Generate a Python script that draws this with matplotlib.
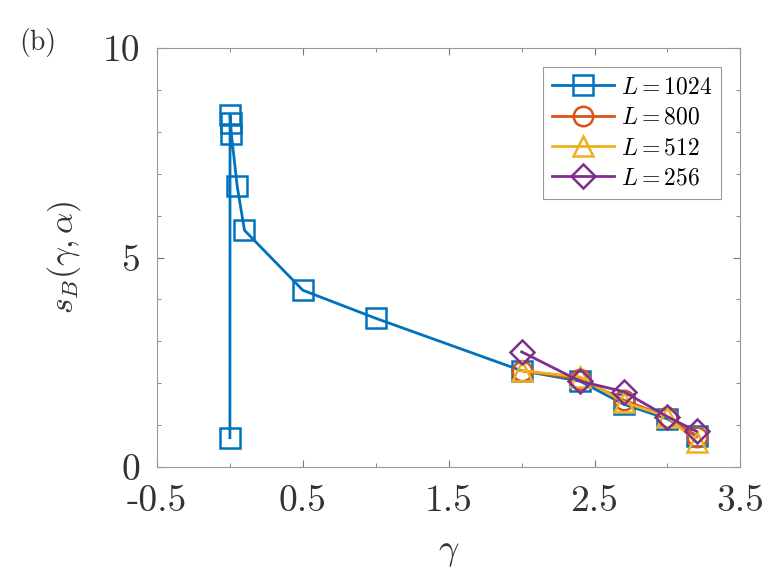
import matplotlib
matplotlib.use('Agg')
import matplotlib.pyplot as plt
from matplotlib.ticker import MultipleLocator

matplotlib.rcParams['mathtext.fontset'] = 'cm'
matplotlib.rcParams['font.family'] = 'cmr10'
matplotlib.rcParams['axes.unicode_minus'] = False

# 数据
gamma_1024 = [0, 0.001, 0.005, 0.01, 0.05, 0.1, 0.5, 1.0, 2.0, 2.4, 2.7, 3.0, 3.2]
s_1024 = [0.7, 8.4, 8.2, 7.95, 6.7, 5.65, 4.22, 3.55, 2.3, 2.05, 1.5, 1.15, 0.75]
gamma_big = [2.0, 2.4, 2.7, 3.0, 3.2]
s_800 = [2.3, 2.1, 1.6, 1.2, 0.72]
s_512 = [2.3, 2.15, 1.55, 1.2, 0.6]
s_256 = [2.75, 2.05, 1.8, 1.2, 0.85]

labels = ['$L=1024$', '$L=800$', '$L=512$', '$L=256$']
colors = ['#0072BD', '#D95319', '#EDB120', '#7E2F8E']
markers = ['s', 'o', '^', 'D']
x_ticks = [-0.5, 0.5, 1.5, 2.5, 3.5]
x_ticklabels = ['-0.5', '0.5', '1.5', '2.5', '3.5']
y_ticks = [0, 5, 10]

fig = plt.figure(figsize=(7.81, 5.86), dpi=100)
ax = fig.add_axes([0.201, 0.203, 0.747, 0.715])

series = [(gamma_1024, s_1024), (gamma_big, s_800), (gamma_big, s_512), (gamma_big, s_256)]
sizes = [14, 14, 14, 12]
for i, (gx, sy) in enumerate(series):
    ax.plot(gx, sy, color=colors[i], marker=markers[i], markersize=sizes[i],
            markerfacecolor='none', markeredgewidth=1.8, linewidth=2.0, label=labels[i])

ax.set_xlim(-0.5, 3.5)
ax.set_ylim(0, 10)
ax.set_xticks(x_ticks)
ax.set_xticklabels(x_ticklabels)
ax.set_yticks(y_ticks)
ax.xaxis.set_minor_locator(MultipleLocator(0.5))
ax.yaxis.set_minor_locator(MultipleLocator(1))
ax.tick_params(which='both', direction='in', top=True, right=True, colors='#777777',
               labelcolor='#333333', labelsize=27)
ax.tick_params(which='major', length=5)
ax.tick_params(which='minor', length=3)
ax.tick_params(axis='x', pad=13)
ax.tick_params(axis='y', pad=12)
for sp in ax.spines.values():
    sp.set_color('#999999')
    sp.set_linewidth(0.8)

ax.set_xlabel(r'$\gamma$', fontsize=26, color='#333333', labelpad=14)
ax.set_ylabel(r'$s_B(\gamma,\alpha)$', fontsize=24, color='#333333', labelpad=14)

leg = ax.legend(loc='upper right', fontsize=17, handlelength=2.6, borderaxespad=0.8,
                labelspacing=0.35, handletextpad=0.3, fancybox=False, framealpha=1)
leg.get_frame().set_edgecolor('#999999')
leg.get_frame().set_linewidth(0.8)

fig.text(0.025, 0.915, '(b)', fontsize=20, color='#333333')

fig.savefig('out.png', dpi=100, facecolor='white')
